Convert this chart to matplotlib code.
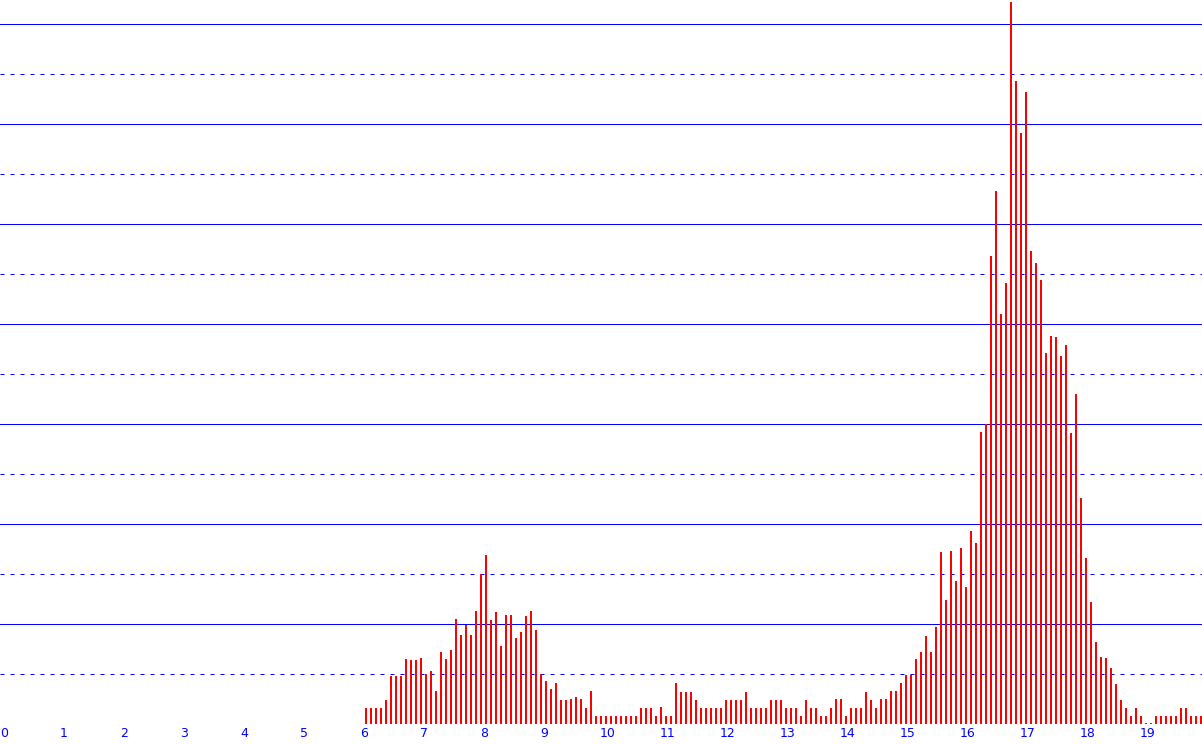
import matplotlib
matplotlib.use("Agg")
import matplotlib.pyplot as plt
import matplotlib.transforms as mtransforms
import numpy as np

# ---- data (bin heights, bins of width 1/12 starting at 6.0) ----
bin_start = 6.0
bin_width = 1.0 / 12.0
heights = [
    16, 16, 16, 16, 24, 48, 48, 48, 65, 64, 64, 66,          # 6.0 - 6.917
    50, 53, 33, 72, 65, 74, 105, 89, 99, 89, 113, 150,       # 7.0 - 7.917
    169, 104, 112, 78, 109, 109, 86, 92, 108, 113, 94, 50,   # 8.0 - 8.917
    43, 35, 41, 24, 24, 25, 27, 25, 16, 33, 8, 8,            # 9.0 - 9.917
    8, 8, 8, 8, 8, 8, 8, 16, 16, 16, 8, 17,                  # 10.0 - 10.917
    8, 8, 41, 32, 32, 32, 24, 16, 16, 16, 16, 16,            # 11.0 - 11.917
    24, 24, 24, 24, 32, 16, 16, 16, 16, 24, 24, 24,          # 12.0 - 12.917
    16, 16, 16, 8, 24, 16, 16, 8, 8, 16, 25, 25,             # 13.0 - 13.917
    8, 16, 16, 16, 32, 24, 16, 25, 25, 33, 33, 41,           # 14.0 - 14.917
    49, 49, 65, 72, 88, 72, 97, 172, 124, 173, 143, 176,     # 15.0 - 15.917
    137, 193, 181, 292, 300, 468, 533, 410, 441, 722, 643, 591,  # 16.0 - 16.917
    632, 473, 461, 444, 371, 388, 387, 368, 379, 291, 330, 226,  # 17.0 - 17.917
    166, 122, 82, 67, 66, 56, 40, 24, 16, 8, 16, 8,          # 18.0 - 18.917
    1, 1, 8, 8, 8, 8, 8, 16, 16, 8, 8, 8,                    # 19.0 - 19.917
]
x_ticks = list(range(20))
x_labels = [str(t) for t in x_ticks]
solid_grid = [100, 200, 300, 400, 500, 600, 700]
dashed_grid = [50, 150, 250, 350, 450, 550, 650]

RED = "#ff0000"
BLUE = "#0000ff"

W, H = 1202, 744
fig = plt.figure(figsize=(W / 100, H / 100), dpi=100)
ax = fig.add_axes([0, 20 / H, 1, 724 / H])

px = 1 / 60.0  # one pixel in x data units
x_left = bin_start + bin_width * np.arange(len(heights))
ax.bar(x_left, heights, width=2 * px, align="edge", color=RED,
       linewidth=0, antialiased=False, zorder=3)

for g in solid_grid:
    ax.axhline(g, color=BLUE, linewidth=0.72, zorder=1)
for g in dashed_grid:
    ax.axhline(g, color=BLUE, linewidth=0.72, linestyle=(0, (4, 6)), zorder=1)
ax.axhline(0, color=BLUE, linewidth=0.72, zorder=4)

ax.set_xlim(-5 * px, (W - 5) * px)
ax.set_ylim(0, 724)
for s in ax.spines.values():
    s.set_visible(False)
ax.set_yticks([])
ax.set_xticks(x_ticks)
ax.set_xticklabels(x_labels, color=BLUE, fontsize=9, family="DejaVu Sans", ha="left")
ax.tick_params(axis="x", length=0, pad=2.5)
offset = mtransforms.ScaledTranslation(-5 / 100, 0, fig.dpi_scale_trans)
for lab in ax.get_xticklabels():
    lab.set_transform(lab.get_transform() + offset)

fig.savefig("out.png", dpi=100, facecolor="white")
